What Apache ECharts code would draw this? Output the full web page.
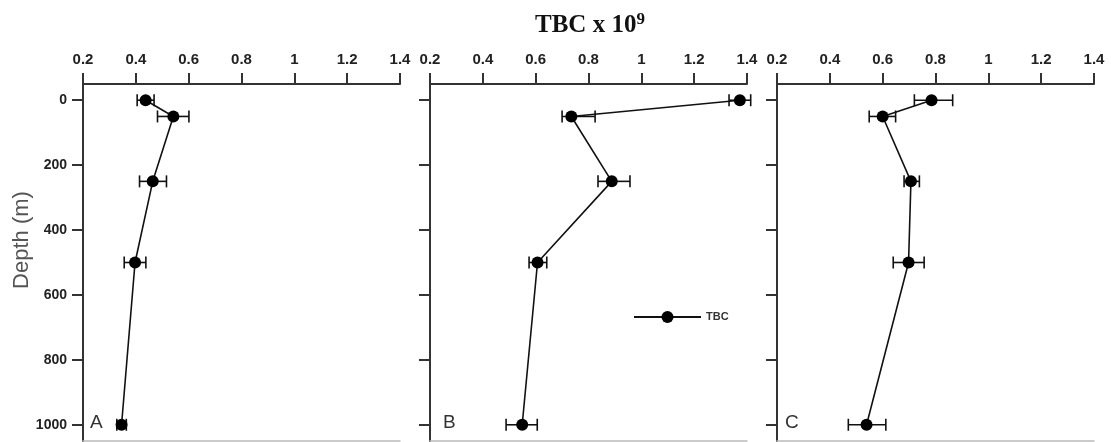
<!DOCTYPE html>
<html>
<head>
<meta charset="utf-8">
<script src="https://cdn.jsdelivr.net/npm/echarts@6/dist/echarts.min.js"></script>
<style>html,body{margin:0;padding:0;background:#fff}#c{width:1111px;height:442px}</style>
</head>
<body>
<div id="c"></div>
<script>
// ---- data ----
const depths = [0, 50, 250, 500, 1000];
const tbcA  = [0.437, 0.542, 0.464, 0.397, 0.346];
const lowA  = [0.405, 0.482, 0.414, 0.356, 0.328];
const highA = [0.469, 0.601, 0.516, 0.438, 0.364];
const tbcB  = [1.373, 0.735, 0.888, 0.607, 0.549];
const lowB  = [1.332, 0.700, 0.836, 0.575, 0.488];
const highB = [1.414, 0.825, 0.957, 0.642, 0.606];
const tbcC  = [0.785, 0.600, 0.707, 0.698, 0.539];
const lowC  = [0.720, 0.549, 0.681, 0.640, 0.470];
const highC = [0.865, 0.649, 0.739, 0.757, 0.612];
const xTicks = [0.2, 0.4, 0.6, 0.8, 1, 1.2, 1.4];
const depthTicks = [0, 200, 400, 600, 800, 1000];
const panelLetters = ['A', 'B', 'C'];
const seriesName = 'TBC';
const titleText = 'TBC x 10';
const titleSup = '9';
const yName = 'Depth (m)';

const panels = [
  {v: tbcA, lo: lowA, hi: highA},
  {v: tbcB, lo: lowB, hi: highB},
  {v: tbcC, lo: lowC, hi: highC}
];
const gridLefts = [83, 430, 777];
const gridW = 317;

const chart = echarts.init(document.getElementById('c'));
const grids = [], xAxes = [], yAxes = [], series = [];
panels.forEach((p, i) => {
  grids.push({left: gridLefts[i], width: gridW, top: 84, height: 357});
  xAxes.push({
    type: 'value', gridIndex: i, position: 'top', min: 0.2, max: 1.4,
    axisLine: {show: true, onZero: false, lineStyle: {color: '#333', width: 2}},
    axisTick: {show: true, length: 11, lineStyle: {color: '#333', width: 2}, customValues: xTicks},
    axisLabel: {customValues: xTicks, margin: 17, fontSize: 15, fontWeight: 'bold', color: '#222',
      fontFamily: 'Liberation Sans, Arial, sans-serif', formatter: v => String(v)},
    splitLine: {show: false}
  });
  xAxes.push({
    type: 'value', gridIndex: i, position: 'bottom', min: 0.2, max: 1.4,
    axisLine: {show: true, onZero: false, lineStyle: {color: '#bbb', width: 1.5}},
    axisTick: {show: false}, axisLabel: {show: false}, splitLine: {show: false}
  });
  yAxes.push({
    type: 'value', gridIndex: i, inverse: true, min: -50, max: 1050,
    axisLine: {show: true, onZero: false, lineStyle: {color: '#333', width: 2}},
    axisTick: {show: true, length: 11, lineStyle: {color: '#333', width: 2}, customValues: depthTicks},
    axisLabel: {show: i === 0, customValues: depthTicks, margin: 16, fontSize: 14, fontWeight: 'bold', color: '#222',
      fontFamily: 'Liberation Sans, Arial, sans-serif', formatter: v => String(v)},
    splitLine: {show: false}
  });
  const errData = depths.map((d, k) => [p.lo[k], p.hi[k], d]);
  series.push({
    type: 'custom', xAxisIndex: i * 2, yAxisIndex: i, z: 1, silent: true,
    data: errData,
    encode: {x: [0, 1], y: 2},
    renderItem: function (params, api) {
      const a = api.coord([api.value(0), api.value(2)]);
      const b = api.coord([api.value(1), api.value(2)]);
      const h = 6;
      const st = {stroke: '#111', lineWidth: 1.6};
      return {type: 'group', children: [
        {type: 'line', shape: {x1: a[0], y1: a[1], x2: b[0], y2: b[1]}, style: st},
        {type: 'line', shape: {x1: a[0], y1: a[1] - h, x2: a[0], y2: a[1] + h}, style: st},
        {type: 'line', shape: {x1: b[0], y1: b[1] - h, x2: b[0], y2: b[1] + h}, style: st}
      ]};
    }
  });
  series.push({
    type: 'line', name: seriesName, xAxisIndex: i * 2, yAxisIndex: i, z: 3,
    data: depths.map((d, k) => [p.v[k], d]),
    symbol: 'circle', symbolSize: 12, showSymbol: true,
    itemStyle: {color: '#000'},
    lineStyle: {color: '#111', width: 1.6}
  });
});

const graphics = panelLetters.map((t, i) => ({
  type: 'text', left: [90, 443, 785][i], top: 413,
  style: {text: t, fontSize: 19, fill: '#333', fontFamily: 'Liberation Sans, Arial, sans-serif'}
}));
graphics.push({
  type: 'text', x: 11, y: 240, rotation: Math.PI / 2,
  style: {text: yName, fontSize: 22, fill: '#555', align: 'center', verticalAlign: 'top',
    fontFamily: 'Liberation Sans, Arial, sans-serif'}
});

chart.setOption({
  animation: false,
  backgroundColor: '#fff',
  title: {
    text: titleText + '{sup|' + titleSup + '}', left: 530, top: 6,
    textStyle: {fontFamily: 'Liberation Serif, Times New Roman, serif', fontWeight: 'bold', fontSize: 25, color: '#111',
      rich: {sup: {fontFamily: 'Liberation Serif, serif', fontWeight: 'bold', fontSize: 17, color: '#111', verticalAlign: 'top', padding: [0, 0, 12, 0]}}}
  },
  legend: {
    data: [seriesName], left: 628, top: 306, itemWidth: 67, itemHeight: 15, itemGap: 4,
    textStyle: {fontSize: 11, fontWeight: 'bold', color: '#333', fontFamily: 'Liberation Sans, Arial, sans-serif'},
    selectedMode: false
  },
  grid: grids, xAxis: xAxes, yAxis: yAxes, series: series, graphic: graphics
});
</script>
</body>
</html>
